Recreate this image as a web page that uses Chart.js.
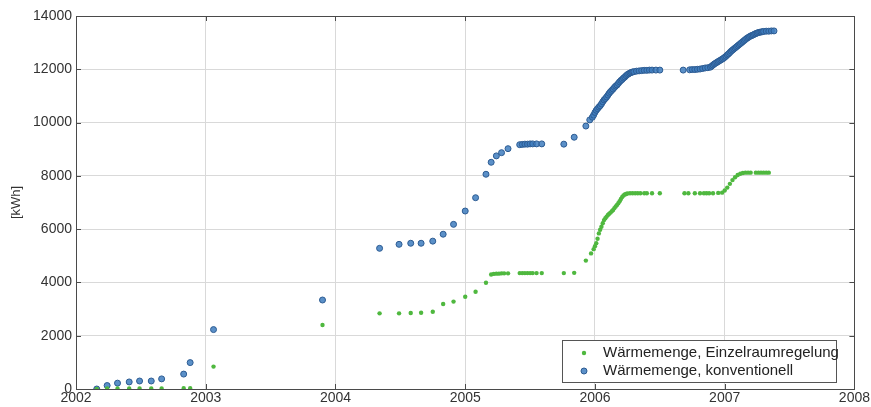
<!DOCTYPE html>
<html><head><meta charset="utf-8">
<script src="https://cdn.jsdelivr.net/npm/chart.js@4/dist/chart.umd.min.js"></script>
<style>html,body{margin:0;padding:0;background:#fff}</style>
</head><body>
<canvas id="c" width="871" height="407"></canvas>
<script>
const seriesNames = ["Wärmemenge, Einzelraumregelung", "Wärmemenge, konventionell"];
const yAxisTitle = "[kWh]";
const xTicks = [2002, 2003, 2004, 2005, 2006, 2007, 2008];
const yTicks = [0, 2000, 4000, 6000, 8000, 10000, 12000, 14000];

// Einzelraumregelung (green)
const einzYears = [
  2002.16, 2002.24, 2002.32, 2002.41, 2002.49, 2002.58, 2002.66, 2002.83, 2002.88,
  2003.06, 2003.90,
  2004.34, 2004.49, 2004.58, 2004.66, 2004.75, 2004.83, 2004.91,
  2005.00, 2005.08, 2005.16, 2005.20, 2005.22, 2005.24, 2005.26, 2005.28, 2005.30, 2005.33,
  2005.42, 2005.44, 2005.46, 2005.48, 2005.50, 2005.52, 2005.55, 2005.59,
  2005.76, 2005.84, 2005.93, 2005.97, 2005.99,
  2006.00, 2006.01, 2006.02, 2006.03, 2006.04, 2006.05, 2006.06, 2006.07, 2006.08, 2006.09,
  2006.10, 2006.11, 2006.12, 2006.13, 2006.14, 2006.15, 2006.16, 2006.17, 2006.18, 2006.19,
  2006.20, 2006.21, 2006.22, 2006.23, 2006.24, 2006.25, 2006.27, 2006.29, 2006.31, 2006.33,
  2006.35, 2006.38, 2006.40, 2006.44, 2006.50,
  2006.69, 2006.72, 2006.77, 2006.81, 2006.84, 2006.86, 2006.88, 2006.91, 2006.95, 2006.98,
  2007.00, 2007.02, 2007.04, 2007.06, 2007.08, 2007.10, 2007.12, 2007.14, 2007.16, 2007.18,
  2007.20, 2007.24, 2007.26, 2007.28, 2007.30, 2007.32, 2007.34
];
const einzValues = [
  0, 20, 20, 20, 20, 20, 20, 30, 30,
  840, 2400,
  2840, 2840, 2850, 2860, 2900, 3190, 3280,
  3460, 3650, 3990, 4300, 4320, 4330, 4330, 4340, 4340, 4340,
  4350, 4350, 4350, 4350, 4350, 4350, 4350, 4350,
  4350, 4360, 4820, 5090, 5250,
  5360, 5470, 5640, 5840, 5980, 6090, 6220, 6340, 6410, 6470,
  6530, 6580, 6620, 6670, 6720, 6790, 6850, 6910, 6970, 7050,
  7130, 7210, 7260, 7300, 7320, 7340, 7345, 7345, 7350, 7350,
  7350, 7350, 7350, 7350, 7350,
  7350, 7350, 7350, 7350, 7350, 7350, 7350, 7350, 7360, 7370,
  7450, 7560, 7700, 7840, 7950, 8030, 8080, 8110, 8120, 8120,
  8120, 8120, 8120, 8120, 8120, 8120, 8120
];

// konventionell (blue)
const convYears = [
  2002.16, 2002.24, 2002.32, 2002.41, 2002.49, 2002.58, 2002.66, 2002.83, 2002.88,
  2003.06, 2003.90,
  2004.34, 2004.49, 2004.58, 2004.66, 2004.75, 2004.83, 2004.91,
  2005.00, 2005.08, 2005.16, 2005.20, 2005.24, 2005.28, 2005.33,
  2005.42, 2005.44, 2005.46, 2005.48, 2005.50, 2005.52, 2005.55, 2005.59,
  2005.76, 2005.84, 2005.93, 2005.96, 2005.98, 2005.99,
  2006.00, 2006.01, 2006.02, 2006.03, 2006.04, 2006.05, 2006.06, 2006.07, 2006.08, 2006.09,
  2006.10, 2006.11, 2006.12, 2006.13, 2006.14, 2006.15, 2006.16, 2006.17, 2006.18, 2006.19,
  2006.20, 2006.21, 2006.22, 2006.23, 2006.24, 2006.25, 2006.26, 2006.27, 2006.28, 2006.29,
  2006.30, 2006.32, 2006.34, 2006.36, 2006.38, 2006.40, 2006.42, 2006.44, 2006.47, 2006.50,
  2006.68, 2006.73, 2006.75, 2006.77, 2006.79, 2006.81, 2006.83, 2006.85, 2006.87, 2006.89,
  2006.90, 2006.91, 2006.92, 2006.93, 2006.94, 2006.95, 2006.96, 2006.97, 2006.98, 2006.99,
  2007.00, 2007.01, 2007.02, 2007.03, 2007.04, 2007.05, 2007.06, 2007.07, 2007.08, 2007.09,
  2007.10, 2007.11, 2007.12, 2007.13, 2007.14, 2007.15, 2007.16, 2007.17, 2007.18, 2007.19,
  2007.20, 2007.21, 2007.22, 2007.23, 2007.24, 2007.25, 2007.26, 2007.27, 2007.28, 2007.29,
  2007.30, 2007.32, 2007.34, 2007.36, 2007.38
];
const convValues = [
  0, 130, 220, 265, 300, 300, 380, 560, 990,
  2230, 3340,
  5280, 5430, 5470, 5470, 5550, 5810, 6180,
  6680, 7180, 8060, 8510, 8750, 8870, 9020,
  9170, 9180, 9190, 9190, 9200, 9200, 9200, 9200,
  9190, 9450, 9870, 10100, 10200, 10280,
  10380, 10460, 10520, 10580, 10630, 10700, 10780, 10850, 10900, 10960,
  11030, 11100, 11160, 11210, 11260, 11320, 11370, 11410, 11470, 11530,
  11580, 11620, 11670, 11710, 11760, 11800, 11830, 11860, 11880, 11900,
  11910, 11930, 11940, 11950, 11960, 11960, 11970, 11970, 11970, 11970,
  11970, 11980, 11990, 11990, 12000, 12010, 12030, 12050, 12060, 12080,
  12120, 12160, 12200, 12230, 12260, 12290, 12320, 12350, 12380, 12410,
  12450, 12490, 12540, 12580, 12630, 12680, 12720, 12760, 12800, 12840,
  12880, 12920, 12960, 13000, 13040, 13080, 13120, 13160, 13190, 13220,
  13250, 13270, 13290, 13320, 13340, 13360, 13380, 13390, 13400, 13410,
  13420, 13430, 13430, 13440, 13440
];

const green = '#4fb83f';
const blueFill = 'rgba(62,124,190,0.85)';
const blueBorder = '#2c5b92';
const axisColor = '#4a4a4a';
const textColor = '#333333';
const FONT = '"Liberation Sans", Arial, sans-serif';

const toPts = (xs, ys) => xs.map((x, i) => ({x: x, y: ys[i]}));

const frame = {
  id: 'frame',
  afterDraw(chart) {
    const {ctx, chartArea: a, scales} = chart;
    ctx.save();
    ctx.strokeStyle = axisColor;
    ctx.lineWidth = 1;
    ctx.strokeRect(Math.round(a.left) + 0.5, Math.round(a.top) + 0.5,
                   Math.round(a.right - a.left), Math.round(a.bottom - a.top));
    const tl = 5;
    ctx.beginPath();
    xTicks.forEach(v => {
      const x = Math.round(scales.x.getPixelForValue(v)) + 0.5;
      ctx.moveTo(x, a.bottom); ctx.lineTo(x, a.bottom - tl);
      ctx.moveTo(x, a.top); ctx.lineTo(x, a.top + tl);
    });
    yTicks.forEach(v => {
      const y = Math.round(scales.y.getPixelForValue(v)) + 0.5;
      ctx.moveTo(a.left, y); ctx.lineTo(a.left + tl, y);
      ctx.moveTo(a.right, y); ctx.lineTo(a.right - tl, y);
    });
    ctx.stroke();

    // legend box
    const bx = 562, by = 340, bw = 274, bh = 42;
    ctx.fillStyle = '#fff';
    ctx.fillRect(bx, by, bw, bh);
    ctx.strokeStyle = '#555';
    ctx.strokeRect(bx + 0.5, by + 0.5, bw, bh);
    ctx.font = '15px ' + FONT;
    ctx.fillStyle = '#222';
    ctx.textBaseline = 'middle';
    ctx.textAlign = 'left';
    const rows = [by + 13, by + 31];
    // green marker
    ctx.beginPath(); ctx.fillStyle = green; ctx.arc(584, rows[0], 2.2, 0, Math.PI * 2); ctx.fill();
    // blue marker
    ctx.beginPath(); ctx.fillStyle = blueFill; ctx.strokeStyle = blueBorder;
    ctx.arc(584, rows[1], 3, 0, Math.PI * 2); ctx.fill(); ctx.stroke();
    ctx.fillStyle = '#222';
    ctx.fillText(seriesNames[0], 603, rows[0]);
    ctx.fillText(seriesNames[1], 603, rows[1]);
    ctx.restore();
  }
};

new Chart(document.getElementById('c'), {
  type: 'scatter',
  data: {
    datasets: [
      {label: seriesNames[0], data: toPts(einzYears, einzValues), pointStyle: 'circle',
       pointRadius: 2.2, backgroundColor: green, borderColor: green, borderWidth: 0},
      {label: seriesNames[1], data: toPts(convYears, convValues), pointStyle: 'circle',
       pointRadius: 3, backgroundColor: blueFill, borderColor: blueBorder, borderWidth: 1}
    ]
  },
  options: {
    responsive: false,
    animation: false,
    events: [],
    layout: {padding: {left: 0, right: 16, top: 16, bottom: 0}},
    plugins: {legend: {display: false}, tooltip: {enabled: false}},
    scales: {
      x: {
        type: 'linear', min: 2002, max: 2008,
        afterBuildTicks: s => { s.ticks = xTicks.map(v => ({value: v})); },
        afterFit: s => { s.height = 18; },
        border: {display: false},
        grid: {color: '#d9d9d9', drawTicks: false, lineWidth: 1},
        ticks: {padding: 1, color: textColor, font: {family: FONT, size: 14},
                callback: v => String(v), maxRotation: 0}
      },
      y: {
        type: 'linear', min: 0, max: 14000,
        afterBuildTicks: s => { s.ticks = yTicks.map(v => ({value: v})); },
        afterFit: s => { s.width = 76; },
        border: {display: false},
        grid: {color: '#d9d9d9', drawTicks: false, lineWidth: 1},
        title: {display: true, text: yAxisTitle, color: textColor,
                font: {family: FONT, size: 13}, padding: {top: 9, bottom: 0}},
        ticks: {padding: 4, color: textColor, font: {family: FONT, size: 14},
                callback: v => String(v)}
      }
    }
  },
  plugins: [frame]
});
</script>
</body></html>
